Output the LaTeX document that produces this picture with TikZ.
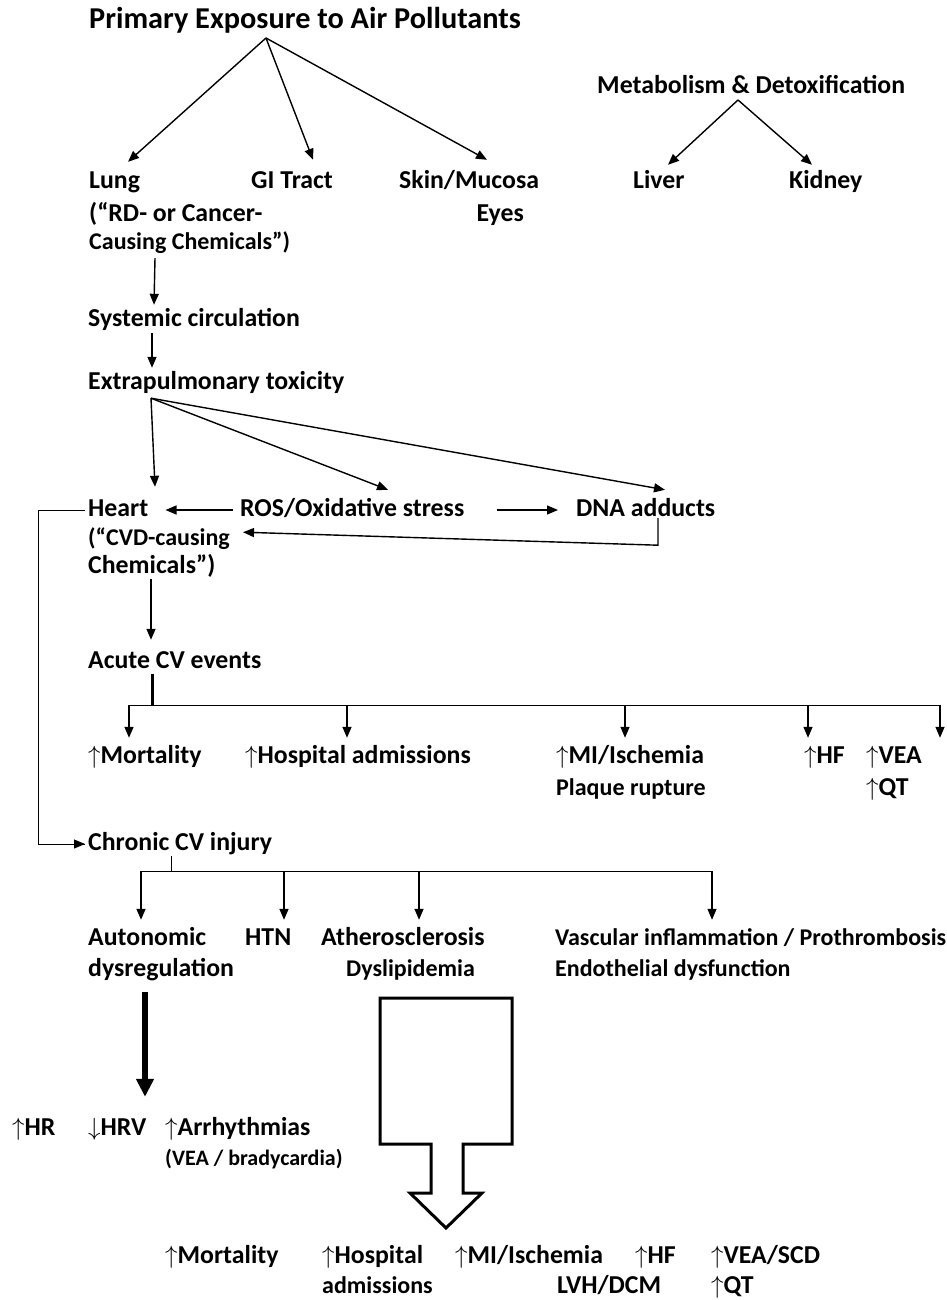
\documentclass[tikz,border=0pt]{standalone}
\usepackage{fontspec}
\setmainfont{Carlito}
\usetikzlibrary{arrows.meta,calc}

\newcommand{\incr}{\(\uparrow\)}
\newcommand{\decr}{\(\downarrow\)}

\begin{document}
\begin{tikzpicture}[x=1pt, y=-1pt, >={Triangle[length=11pt,width=9pt]},
  lbl/.style={anchor=base west, inner sep=0pt, text height=18pt, text depth=6pt,
    font=\fontsize{25.8}{30}\selectfont\bfseries},
  sub/.style={lbl, font=\fontsize{24}{28}\selectfont\bfseries},
  small/.style={lbl, font=\fontsize{22}{26}\selectfont\bfseries},
  big/.style={lbl, font=\fontsize{30.3}{36}\selectfont\bfseries},
  arr/.style={->, line width=1.4pt},
  link/.style={line width=1pt}]
  \useasboundingbox (0,0) rectangle (946,1300);

  % exposure and uptake
  \node[big] (expo) at (89,29) {Primary Exposure to Air Pollutants};
  \node[lbl] (meta) at (597,94) {Metabolism \& Detoxification};
  \node[lbl] (lung) at (89,189) {Lung};
  \node[lbl] (lung2) at (89,221) {(“RD- or Cancer-};
  \node[sub] (lung3) at (89,249) {Causing Chemicals”)};
  \node[lbl] (gi) at (251,189) {GI Tract};
  \node[lbl] (skin) at (399,189) {Skin/Mucosa};
  \node[lbl, anchor=base east] (eyes) at (524,221) {Eyes};
  \node[lbl] (liver) at (633,189) {Liver};
  \node[lbl] (kidney) at (789,189) {Kidney};
  \node[lbl] (sys) at (88,326) {Systemic circulation};
  \node[lbl] (extra) at (88,389) {Extrapulmonary toxicity};

  \coordinate (expofork) at ($(expo.base west)+(177,9)$);
  \coordinate (metafork) at ($(meta.base west)+(141,6)$);
  \draw[arr] (expofork) -- ([xshift=39pt,yshift=9pt]lung.north west);
  \draw[arr] (expofork) -- ([xshift=62pt,yshift=11pt]gi.north west);
  \draw[arr] (expofork) -- ([xshift=88pt,yshift=11pt]skin.north west);
  \draw[arr] (metafork) -- ([xshift=35pt,yshift=6pt]liver.north west);
  \draw[arr] (metafork) -- ([xshift=23pt,yshift=6pt]kidney.north west);
  \draw[arr] ([xshift=66pt,yshift=-3pt]lung3.south west) -- ([xshift=66pt,yshift=3pt]sys.north west);
  \draw[arr] ([xshift=64pt,yshift=-1pt]sys.south west) -- ([xshift=64pt,yshift=3pt]extra.north west);

  % targets
  \node[lbl] (heart) at (88,516) {Heart};
  \node[sub] (heart2) at (88,545) {(“CVD-causing};
  \node[lbl] (heart3) at (88,573) {Chemicals”)};
  \node[lbl] (ros) at (240,516) {ROS/Oxidative stress};
  \node[lbl] (dna) at (576,516) {DNA adducts};

  \coordinate (extrafork) at ([xshift=63pt,yshift=-3pt]extra.south west);
  \draw[arr] (extrafork) -- ([xshift=67pt,yshift=11pt]heart.north west);
  \draw[arr] (extrafork) -- ([xshift=148pt,yshift=8pt]ros.north west);
  \draw[arr] (extrafork) -- ([xshift=89pt,yshift=8pt]dna.north west);
  \draw[arr] ([xshift=-7pt]ros.west) -- ([xshift=17pt]heart.east);
  \draw[arr] ([xshift=32pt]ros.east) -- ([xshift=-18pt]dna.west);
  \draw[arr] ([xshift=82pt,yshift=4pt]dna.south west) -- ++(0,27) -- ([xshift=3pt,yshift=-10pt]ros.south west);

  % acute effects
  \node[lbl] (acute) at (88,668) {Acute CV events};
  \node[lbl] (amort) at (88,763) {\incr Mortality};
  \node[lbl] (ahosp) at (245,763) {\incr Hospital admissions};
  \node[lbl] (ami) at (556,763) {\incr MI/Ischemia};
  \node[sub] (aplaque) at (556,795) {Plaque rupture};
  \node[lbl] (ahf) at (804,763) {\incr HF};
  \node[lbl] (avea) at (866,763) {\incr VEA};
  \node[lbl] (aqt) at (866,795) {\incr QT};

  \draw[arr] ([xshift=63pt]heart3.south west) -- ([xshift=63pt,yshift=10pt]acute.north west);
  \draw[line width=3pt] ([xshift=64pt]acute.south west) -- ++(0,31) coordinate (abus);
  \draw[link] ($(abus -| amort.north west)+(41,0)$) -- ($(abus -| avea.north west)+(74,0)$);
  \foreach \n/\dx in {amort/41, ahosp/102, ami/69, ahf/4, avea/74}
    \draw[arr] ([xshift=\dx pt,yshift=40pt]\n.north west) -- ([xshift=\dx pt,yshift=7pt]\n.north west);

  % chronic effects
  \node[lbl] (chronic) at (88,850) {Chronic CV injury};
  \node[lbl] (auto) at (88,945) {Autonomic};
  \node[lbl] (auto2) at (88,976) {dysregulation};
  \node[lbl] (htn) at (245,945) {HTN};
  \node[lbl] (athero) at (321,945) {Atherosclerosis};
  \node[sub] (dyslip) at (346,976) {Dyslipidemia};
  \node[sub] (vasc) at (555,945) {Vascular inflammation / Prothrombosis};
  \node[sub] (endo) at (555,976) {Endothelial dysfunction};

  \draw[link] ([xshift=-3pt]heart.west) -- ++(-47,0) |- ([xshift=-3pt]chronic.west);
  \draw[->, link] ([xshift=-30pt]chronic.west) -- ([xshift=-3pt]chronic.west);
  \draw[link] ([xshift=83pt]chronic.south west) -- ++(0,15) coordinate (cbus);
  \draw[link] ($(cbus -| auto.north west)+(53,0)$) -- ($(cbus -| vasc.north west)+(157,0)$);
  \foreach \n/\dx in {auto/53, htn/39, athero/98, vasc/157}
    \draw[arr] ([xshift=\dx pt,yshift=56pt]\n.north west) -- ([xshift=\dx pt,yshift=7pt]\n.north west);

  % outcomes
  \node[lbl] (hr) at (12,1135) {\incr HR};
  \node[lbl] (hrv) at (88,1135) {\decr HRV};
  \node[lbl] (arrh) at (165,1135) {\incr Arrhythmias};
  \node[small] (arrh2) at (165,1165) {(VEA / bradycardia)};
  \draw[-{Triangle[length=18pt,width=17pt]}, line width=6pt]
    ([xshift=57pt,yshift=-10pt]auto2.south west) -- ([xshift=57pt,yshift=20pt]hrv.north west);

  \draw[line width=3pt, line join=miter]
    (380,998) -- (512,998) -- (512,1144) -- (463,1144) -- (463,1193) -- (482,1193)
    -- (446,1228) -- (410,1193) -- (431,1193) -- (431,1144) -- (380,1144) -- cycle;

  \node[lbl] (bmort) at (165,1263) {\incr Mortality};
  \node[lbl] (bhosp) at (322,1263) {\incr Hospital};
  \node[sub] (bhosp2) at (322,1293) {admissions};
  \node[lbl] (bmi) at (455,1263) {\incr MI/Ischemia};
  \node[lbl] (blvh) at (557,1293) {LVH/DCM};
  \node[lbl] (bhf) at (635,1263) {\incr HF};
  \node[lbl] (bvea) at (711,1263) {\incr VEA/SCD};
  \node[lbl] (bqt) at (711,1293) {\incr QT};
\end{tikzpicture}
\end{document}
